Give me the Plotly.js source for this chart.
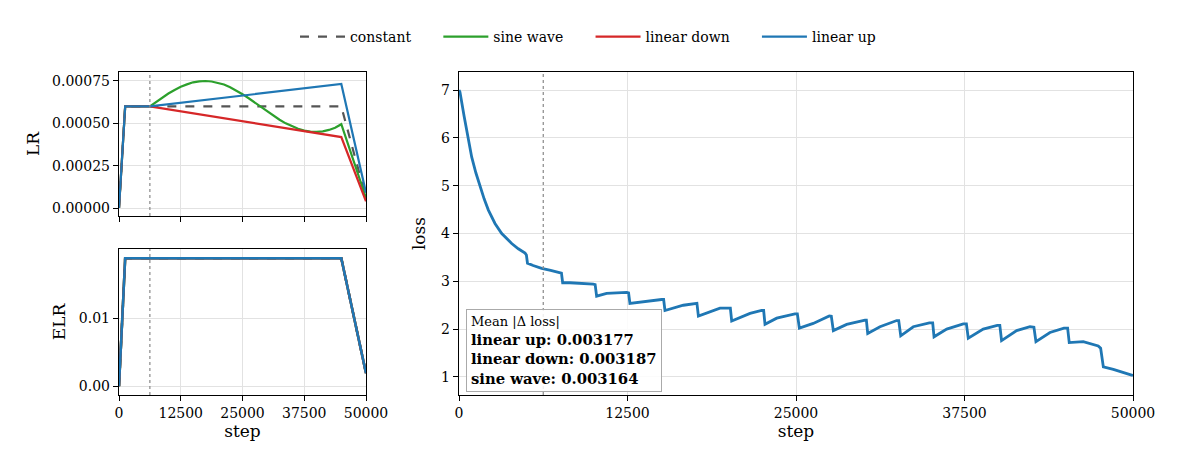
<!DOCTYPE html>
<html>
<head>
<meta charset="utf-8">
<script src="https://cdn.plot.ly/plotly-3.0.1.min.js"></script>
<style>html,body{margin:0;padding:0;background:#fff}#chart{width:1182px;height:468px}</style>
</head>
<body>
<div id="chart"></div>
<script>
// ---- data ----
var seriesNames = ["constant", "sine wave", "linear down", "linear up"];

var constSteps = [0, 1250, 45000, 50000];
var constLR    = [0, 0.0006, 0.0006, 0.00006];

var sineSteps = [0, 1250, 6250, 7500, 8750, 10000, 11250, 12500, 13750, 15000, 16250, 17500, 18750, 20000, 21250, 22500, 23750, 25000, 26250, 27500, 28750, 30000, 31250, 32500, 33750, 35000, 36250, 37500, 38750, 40000, 41250, 42500, 43750, 45000, 50000];
var sineLR    = [0, 0.0006, 0.0006, 0.000626, 0.000652, 0.000676, 0.000697, 0.000716, 0.000730, 0.000742, 0.000748, 0.000750, 0.000747, 0.000740, 0.000729, 0.000713, 0.000694, 0.000672, 0.000648, 0.000622, 0.000596, 0.000570, 0.000544, 0.000521, 0.000500, 0.000482, 0.000468, 0.000457, 0.000451, 0.000450, 0.000453, 0.000461, 0.000474, 0.000495, 0.00006];

var downSteps = [0, 1250, 6250, 45000, 50000];
var downLR    = [0, 0.0006, 0.0006, 0.000419, 0.00004];

var upSteps = [0, 1250, 6250, 45000, 50000];
var upLR    = [0, 0.0006, 0.0006, 0.000732, 0.00009];

var elrSteps = [0, 1250, 45000, 50000];
var elrValues = [0, 0.0188, 0.0188, 0.0019];

var lossSteps = [0, 70, 380, 690, 940, 1250, 1560, 1870, 2180, 2670, 3170, 3540, 3910, 4400, 4900, 5000, 5080, 5500, 6130, 6800, 7490, 7600, 7690, 8230, 9960, 10100, 10210, 10950, 12440, 12580, 12680, 13430, 15030, 15180, 15280, 16640, 17510, 17650, 17760, 19360, 20050, 20130, 20230, 21590, 22450, 22600, 22700, 23570, 24920, 25100, 25250, 26280, 27470, 27620, 27770, 28760, 30120, 30220, 30320, 31230, 32470, 32620, 32770, 33700, 34890, 35060, 35140, 35240, 36180, 37410, 37640, 37780, 38890, 39930, 40120, 40250, 41370, 42360, 42650, 42800, 43840, 44880, 45150, 45270, 46310, 47420, 47600, 47800, 48540, 49900, 50000];
var lossValues = [7.0, 6.96, 6.45, 5.95, 5.6, 5.27, 4.98, 4.72, 4.49, 4.21, 4.0, 3.89, 3.79, 3.68, 3.59, 3.55, 3.38, 3.33, 3.27, 3.23, 3.18, 3.17, 2.97, 2.97, 2.94, 2.93, 2.69, 2.75, 2.77, 2.76, 2.54, 2.57, 2.62, 2.62, 2.39, 2.50, 2.54, 2.54, 2.275, 2.44, 2.44, 2.44, 2.17, 2.33, 2.39, 2.39, 2.10, 2.23, 2.32, 2.32, 2.02, 2.12, 2.275, 2.27, 1.97, 2.10, 2.19, 2.19, 1.91, 2.05, 2.18, 2.18, 1.86, 2.05, 2.13, 2.135, 2.13, 1.84, 2.0, 2.11, 2.11, 1.81, 2.0, 2.08, 2.08, 1.76, 1.97, 2.05, 2.04, 1.74, 1.93, 2.02, 2.02, 1.72, 1.74, 1.65, 1.60, 1.21, 1.16, 1.04, 1.03];

var warmupEnd = 6250;
var stepTicks = [0, 12500, 25000, 37500, 50000];
var meanDelta = [["linear up", "0.003177"], ["linear down", "0.003187"], ["sine wave", "0.003164"]];

// ---- styling ----
var colors = {"constant": "#555555", "sine wave": "#2ca02c", "linear down": "#d62728", "linear up": "#1f77b4"};
var FONT = "DejaVu Serif, serif";
var PAD = "&nbsp;&nbsp;&nbsp;&nbsp;&nbsp;";

var lrData = [[constSteps, constLR], [sineSteps, sineLR], [downSteps, downLR], [upSteps, upLR]];
var traces = [];
seriesNames.forEach(function (n, i) {
  traces.push({
    x: lrData[i][0], y: lrData[i][1], xaxis: "x", yaxis: "y", mode: "lines",
    name: n + (i < seriesNames.length - 1 ? PAD : ""),
    line: {color: colors[n], width: 2.2, dash: n === "constant" ? "dash" : "solid"},
    showlegend: true, legendgroup: n, hoverinfo: "skip"
  });
});
seriesNames.forEach(function (n) {
  traces.push({
    x: elrSteps, y: elrValues, xaxis: "x2", yaxis: "y2", mode: "lines", name: n,
    line: {color: colors[n], width: 2.5, dash: n === "constant" ? "dash" : "solid"},
    showlegend: false, legendgroup: n, hoverinfo: "skip"
  });
});
traces.push({
  x: lossSteps, y: lossValues, xaxis: "x3", yaxis: "y3", mode: "lines", name: "linear up",
  line: {color: colors["linear up"], width: 2.8}, showlegend: false, hoverinfo: "skip"
});

function axisBase() {
  return {
    showline: true, mirror: true, linecolor: "#000", linewidth: 1.2,
    ticks: "outside", ticklen: 5, tickwidth: 1, tickcolor: "#000",
    showgrid: true, gridcolor: "#e2e2e2", gridwidth: 1, zeroline: false,
    tickfont: {family: FONT, size: 14, color: "#000"}, automargin: false
  };
}
function ax(extra) { var a = axisBase(); for (var k in extra) a[k] = extra[k]; return a; }

var W = 1182, H = 468;
var leftX = [119 / W, 366 / W], rightX = [459 / W, 1133 / W];
var topY = [1 - 216 / H, 1 - 72 / H], botY = [1 - 395 / H, 1 - 249 / H];

var titleFont = {family: FONT, size: 17, color: "#000"};

var layout = {
  width: W, height: H,
  margin: {l: 0, r: 0, t: 0, b: 0},
  paper_bgcolor: "#fff", plot_bgcolor: "#fff",
  font: {family: FONT, color: "#000"},
  showlegend: true,
  legend: {orientation: "h", x: 588 / W, xanchor: "center", y: 1 - 37 / H, yanchor: "middle",
           font: {family: FONT, size: 14, color: "#000"}, bgcolor: "rgba(0,0,0,0)", itemwidth: 45, tracegroupgap: 0},
  xaxis: ax({domain: leftX, range: [0, 50000], tickvals: stepTicks, showticklabels: false, anchor: "y"}),
  yaxis: ax({domain: topY, range: [-0.000047, 0.000803], tickvals: [0, 0.00025, 0.0005, 0.00075], tickformat: ".5f", anchor: "x",
             title: {text: "LR", font: titleFont, standoff: 8}}),
  xaxis2: ax({domain: leftX, range: [0, 50000], tickvals: stepTicks, tickformat: "d", anchor: "y2",
              title: {text: "step", font: titleFont, standoff: 2}}),
  yaxis2: ax({domain: botY, range: [-0.0013, 0.02015], tickvals: [0, 0.01], tickformat: ".2f", anchor: "x2",
              title: {text: "ELR", font: titleFont, standoff: 8}}),
  xaxis3: ax({domain: rightX, range: [0, 50000], tickvals: stepTicks, tickformat: "d", anchor: "y3",
              title: {text: "step", font: titleFont, standoff: 2}}),
  yaxis3: ax({domain: [botY[0], topY[1]], range: [0.623, 7.377], tickvals: [1, 2, 3, 4, 5, 6, 7], anchor: "x3",
              title: {text: "loss", font: titleFont, standoff: 11}}),
  shapes: [["x", "y"], ["x2", "y2"], ["x3", "y3"]].map(function (p) {
    return {type: "line", xref: p[0], yref: p[1] + " domain", x0: warmupEnd, x1: warmupEnd, y0: 0, y1: 1,
            line: {color: "#888", width: 1.2, dash: "dot"}, layer: "above"};
  }),
  annotations: [{
    xref: "paper", yref: "paper", x: 466 / W, y: 1 - 392 / H, xanchor: "left", yanchor: "bottom",
    align: "left", showarrow: false,
    text: '<span style="font-size:13px">Mean |Δ loss|</span><br>' +
          meanDelta.map(function (m) { return "<b>" + m[0] + ": " + m[1] + "</b>"; }).join("<br>"),
    font: {family: FONT, size: 14.8, color: "#000"},
    bgcolor: "rgba(255,255,255,0.85)", bordercolor: "#aaaaaa", borderwidth: 1, borderpad: 4
  }]
};

Plotly.newPlot("chart", traces, layout, {staticPlot: true, displayModeBar: false});
</script>
</body>
</html>
